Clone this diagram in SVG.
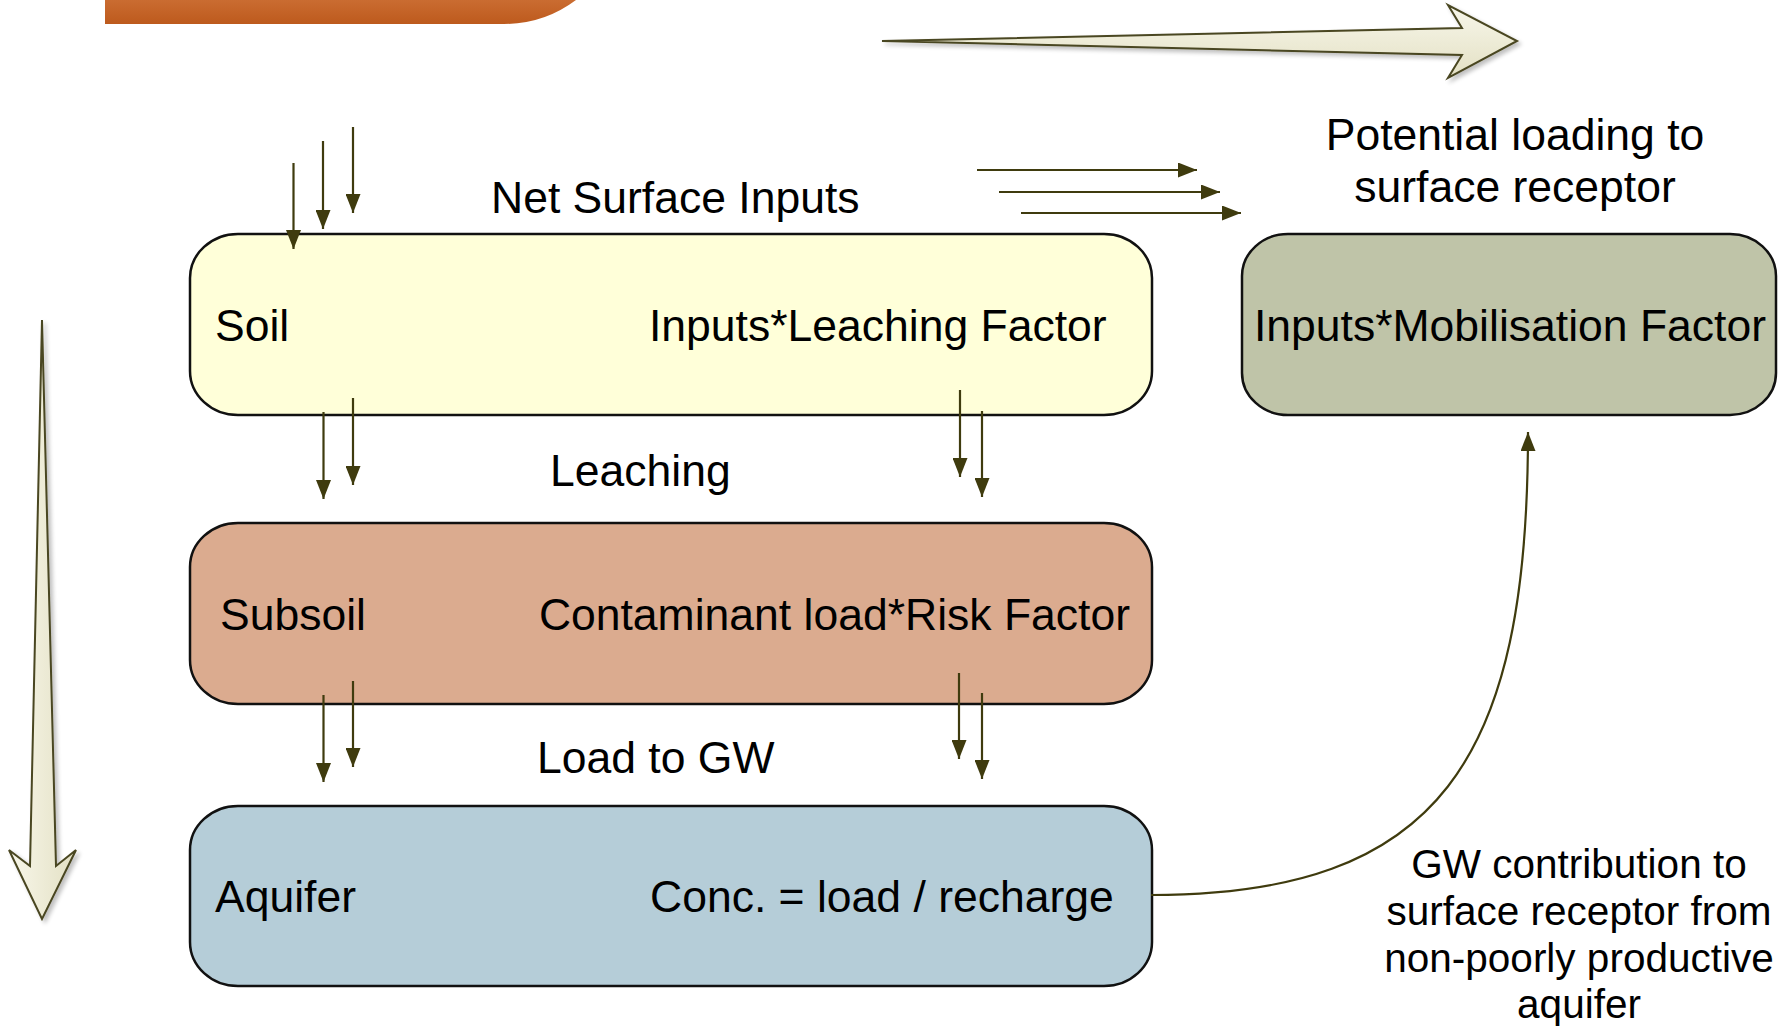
<svg xmlns="http://www.w3.org/2000/svg" width="1791" height="1026" viewBox="0 0 1791 1026">
  <defs>
    <linearGradient id="orangeGrad" x1="0" y1="0" x2="0" y2="1">
      <stop offset="0" stop-color="#ca6c31"/>
      <stop offset="1" stop-color="#bd5a1d"/>
    </linearGradient>
    <linearGradient id="bigArrowH" x1="0" y1="0" x2="0" y2="1">
      <stop offset="0" stop-color="#f8f7ea"/>
      <stop offset="1" stop-color="#e3e0c4"/>
    </linearGradient>
    <linearGradient id="bigArrowV" x1="0" y1="0" x2="1" y2="0">
      <stop offset="0" stop-color="#f8f7ea"/>
      <stop offset="1" stop-color="#e3e0c4"/>
    </linearGradient>
    <filter id="shadow" x="-10%" y="-10%" width="130%" height="130%">
      <feGaussianBlur in="SourceAlpha" stdDeviation="2"/>
      <feOffset dx="3" dy="3" result="b"/>
      <feComponentTransfer><feFuncA type="linear" slope="0.25"/></feComponentTransfer>
      <feMerge><feMergeNode/><feMergeNode in="SourceGraphic"/></feMerge>
    </filter>
    <marker id="ah" markerUnits="userSpaceOnUse" markerWidth="19" markerHeight="15" refX="19" refY="7.5" orient="auto">
      <path d="M0,0 L19,7.5 L0,15 Z" fill="#3f3b0e"/>
    </marker>
  </defs>
  <style>
    .box { stroke: #111111; stroke-width: 2.5; }
    .lbl { font-family: "Liberation Sans", Arial, sans-serif; font-size: 44.5px; fill: #000000; }
    .note { font-family: "Liberation Sans", Arial, sans-serif; font-size: 40.5px; fill: #000000; text-anchor: middle; }
    .conn { stroke: #3f3b0e; stroke-width: 2.2; fill: none; marker-end: url(#ah); }
    .big { stroke: #4a4620; stroke-width: 2; stroke-linejoin: miter; }
  </style>

  <rect width="1791" height="1026" fill="#ffffff"/>

  <g id="title-bar">
    <path d="M105,0 L576,0 A120,120 0 0 1 504,24 L105,24 Z" fill="url(#orangeGrad)"/>
  </g>

  <g id="big-arrow-right" filter="url(#shadow)">
    <polygon class="big" fill="url(#bigArrowH)" points="882,41 1462,28 1448,5 1517,41 1448,78 1462,55"/>
  </g>
  <g id="big-arrow-down" filter="url(#shadow)">
    <polygon class="big" fill="url(#bigArrowV)" points="42,320 56,866 76,850 42,919 9,850 30,866"/>
  </g>

  <g id="soil">
    <rect class="box" x="190" y="234" width="962" height="181" rx="48" ry="44" fill="#ffffd9"/>
    <text class="lbl" x="215" y="341">Soil</text>
    <text class="lbl" x="649" y="341">Inputs*Leaching Factor</text>
  </g>
  <g id="subsoil">
    <rect class="box" x="190" y="523" width="962" height="181" rx="48" ry="44" fill="#dbab8f"/>
    <text class="lbl" x="220" y="630">Subsoil</text>
    <text class="lbl" x="1130" y="630" text-anchor="end">Contaminant load*Risk Factor</text>
  </g>
  <g id="aquifer">
    <rect class="box" x="190" y="806" width="962" height="180" rx="48" ry="44" fill="#b5cdd8"/>
    <text class="lbl" x="215" y="912">Aquifer</text>
    <text class="lbl" x="650" y="912">Conc. = load / recharge</text>
  </g>
  <g id="mobilisation">
    <rect class="box" x="1242" y="234" width="534" height="181" rx="46" ry="42" fill="#bfc4a8"/>
    <text class="lbl" x="1510" y="341" text-anchor="middle">Inputs*Mobilisation Factor</text>
  </g>

  <g id="labels">
    <text class="lbl" x="491" y="213">Net Surface Inputs</text>
    <text class="lbl" x="550" y="486">Leaching</text>
    <text class="lbl" x="537" y="773">Load to GW</text>
    <text class="lbl" x="1515" y="150" text-anchor="middle">Potential loading to</text>
    <text class="lbl" x="1515" y="202" text-anchor="middle">surface receptor</text>
    <text class="note" x="1579" y="878">GW contribution to</text>
    <text class="note" x="1579" y="925">surface receptor from</text>
    <text class="note" x="1579" y="972">non-poorly productive</text>
    <text class="note" x="1579" y="1018">aquifer</text>
  </g>

  <g id="connectors">
    <line class="conn" x1="293.5" y1="163" x2="293.5" y2="249"/>
    <line class="conn" x1="323" y1="141" x2="323" y2="229"/>
    <line class="conn" x1="353" y1="127" x2="353" y2="213"/>

    <line class="conn" x1="977" y1="170" x2="1197" y2="170"/>
    <line class="conn" x1="999" y1="192" x2="1220" y2="192"/>
    <line class="conn" x1="1021" y1="213" x2="1241" y2="213"/>

    <line class="conn" x1="323.5" y1="412" x2="323.5" y2="499"/>
    <line class="conn" x1="353" y1="398" x2="353" y2="485"/>
    <line class="conn" x1="960" y1="390" x2="960" y2="477"/>
    <line class="conn" x1="982" y1="411" x2="982" y2="497"/>

    <line class="conn" x1="323.5" y1="695" x2="323.5" y2="782"/>
    <line class="conn" x1="353" y1="681" x2="353" y2="767"/>
    <line class="conn" x1="959" y1="673" x2="959" y2="759"/>
    <line class="conn" x1="982" y1="693" x2="982" y2="779"/>

    <path class="conn" d="M1151,895 C1440,895 1528,760 1528,432"/>
  </g>
</svg>
